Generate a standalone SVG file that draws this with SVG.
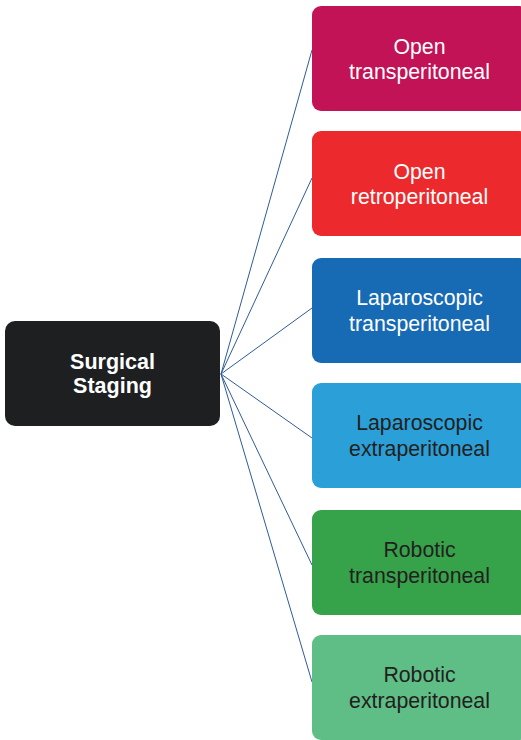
<svg xmlns="http://www.w3.org/2000/svg" width="521" height="740" viewBox="0 0 521 740">
<style>
.box{stroke:none}
.t{font-family:"Liberation Sans",Arial,sans-serif;font-size:21.3px;text-anchor:middle}
.w{fill:#ffffff}
.d{fill:#231f20}
.b{font-weight:bold;font-size:21.5px}
.c{stroke:#2f5b9a;stroke-width:1;fill:none}
</style>
<rect width="521" height="740" fill="#ffffff"/>
<g id="connectors">
<line class="c" x1="221" y1="374" x2="312" y2="50"/>
<line class="c" x1="221" y1="374" x2="312" y2="178"/>
<line class="c" x1="221" y1="374" x2="312" y2="308"/>
<line class="c" x1="221" y1="374" x2="312" y2="438"/>
<line class="c" x1="221" y1="374" x2="312" y2="565"/>
<line class="c" x1="221" y1="374" x2="312" y2="682"/>
</g>
<g id="surgical-staging">
<rect class="box" x="5" y="321" width="215" height="105" rx="10" fill="#1e1f21"/>
<text class="t w b" x="112.5" y="369">Surgical</text>
<text class="t w b" x="112.5" y="393">Staging</text>
</g>
<g id="open-trans">
<rect class="box" x="312" y="6" width="216" height="105" rx="9" fill="#c21357"/>
<text class="t w" x="419.5" y="54">Open</text>
<text class="t w" x="419.5" y="79">transperitoneal</text>
</g>
<g id="open-retro">
<rect class="box" x="312" y="131" width="216" height="105" rx="9" fill="#ec2a2d"/>
<text class="t w" x="419.5" y="179">Open</text>
<text class="t w" x="419.5" y="204">retroperitoneal</text>
</g>
<g id="lap-trans">
<rect class="box" x="312" y="258" width="216" height="105" rx="9" fill="#176ab4"/>
<text class="t w" x="419.5" y="305">Laparoscopic</text>
<text class="t w" x="419.5" y="331">transperitoneal</text>
</g>
<g id="lap-extra">
<rect class="box" x="312" y="383" width="216" height="105" rx="9" fill="#2a9fd8"/>
<text class="t d" x="419.5" y="430">Laparoscopic</text>
<text class="t d" x="419.5" y="456">extraperitoneal</text>
</g>
<g id="rob-trans">
<rect class="box" x="312" y="510" width="216" height="105" rx="9" fill="#36a24a"/>
<text class="t d" x="419.5" y="557">Robotic</text>
<text class="t d" x="419.5" y="583">transperitoneal</text>
</g>
<g id="rob-extra">
<rect class="box" x="312" y="635" width="216" height="105" rx="9" fill="#5ebe86"/>
<text class="t d" x="419.5" y="682">Robotic</text>
<text class="t d" x="419.5" y="708">extraperitoneal</text>
</g>
</svg>
